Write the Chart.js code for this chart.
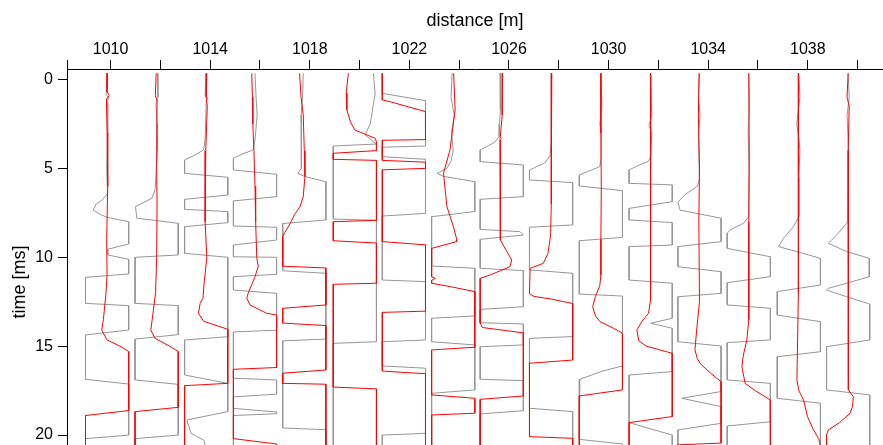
<!DOCTYPE html>
<html>
<head>
<meta charset="utf-8">
<script src="https://cdn.jsdelivr.net/npm/chart.js@4.4.1/dist/chart.umd.min.js"></script>
<style>
  html, body { margin: 0; padding: 0; background: #fff; overflow: hidden; width: 883px; height: 445px; }
  #wrap { width: 883px; height: 445px; overflow: hidden; }
  canvas { display: block; }
</style>
</head>
<body>
<div id="wrap"><canvas id="chart" width="883" height="495"></canvas></div>
<script>
// ---- stations (trace positions along the profile, m) ----
const stations = [1009.86, 1011.85, 1013.84, 1015.80, 1017.78, 1019.81, 1021.78, 1023.76,
                  1025.71, 1027.69, 1029.69, 1031.69, 1033.65, 1035.63, 1037.64, 1039.62];

// ---- axis ticks ----
const distanceTicks  = [1010, 1012, 1014, 1016, 1018, 1020, 1022, 1024, 1026, 1028, 1030, 1032, 1034, 1036, 1038, 1040];
const distanceLabels = [1010, 1014, 1018, 1022, 1026, 1030, 1034, 1038];
const timeTicks      = [0, 5, 10, 15, 20];

// ---- trace samples: [time ms, amplitude], amplitude clipped to [-1, 1] ----
const gray_1010 = [[-0.35,0.02],[0.5,0.0],[0.85,-0.06],[1.0,0.08],[1.3,0.0],[3.0,0.03],[5.0,-0.02],[6.4,0.02],[6.75,-0.2],[7.0,-0.5],[7.35,-0.65],[7.6,-0.3],[7.75,0.0],[8.0,1],[9.25,1],[9.55,0.03],[9.87,0.03],[10.11,1],[10.94,1],[11.13,-1],[12.59,-1],[12.72,1],[14.09,1],[14.37,-1],[16.86,-1],[17.13,1],[20.0,1],[20.2,-1],[20.8,-1]];
const red_1010  = [[-0.35,0.0],[0.7,0.0],[0.9,0.1],[1.1,-0.03],[3.0,0.0],[6.0,0.03],[9.0,-0.02],[11.0,0.0],[12.0,-0.05],[13.5,-0.17],[14.1,-0.25],[14.65,0.0],[15.0,0.6],[15.3,1],[18.62,1],[18.9,-1],[20.8,-1]];

const gray_1012 = [[-0.35,0.03],[1.0,0.06],[1.4,-0.03],[2.5,0.02],[4.0,0.03],[6.2,-0.07],[6.68,-0.22],[7.15,-0.98],[7.8,-0.92],[8.09,1],[9.87,1],[10.0,-1],[12.59,-1],[12.72,1],[14.35,1],[14.6,-1],[16.9,-1],[17.15,1],[20.0,1],[20.2,-1],[20.8,-1]];
const red_1012  = [[-0.35,-0.02],[0.9,-0.06],[1.2,0.02],[5.0,0.0],[7.0,0.02],[10.0,0.0],[12.0,-0.05],[12.96,-0.15],[14.1,-0.27],[14.56,-0.07],[15.0,0.6],[15.3,1],[18.44,1],[18.68,-1],[20.8,-1]];

const gray_1014 = [[-0.35,0.0],[0.9,-0.05],[1.0,0.06],[1.3,0.0],[3.4,-0.05],[3.96,-0.12],[4.3,-0.6],[4.53,-1],[5.28,-1],[5.5,1],[6.5,1],[6.74,-1],[7.3,-1],[7.43,1],[8.05,1],[8.28,-1],[9.78,-1],[10.0,1],[14.47,1],[14.65,-1],[16.62,-1],[17.09,1],[18.68,1],[19.15,-0.9],[19.9,-0.7],[20.3,-0.1],[20.8,0.0]];
const red_1014  = [[-0.35,0.03],[1.0,0.0],[1.5,0.05],[4.0,-0.02],[6.0,-0.05],[8.0,-0.05],[10.0,0.03],[11.5,-0.1],[12.3,-0.15],[12.59,-0.28],[13.15,-0.36],[13.6,-0.12],[14.05,1],[17.09,1],[17.22,-1],[20.8,-1]];

const gray_1016 = [[-0.35,0.0],[1.0,0.05],[2.0,0.1],[3.4,0.0],[3.96,-0.08],[4.2,-0.6],[4.43,-1],[5.09,-1],[5.33,1],[6.59,1],[6.83,-1],[8.24,-1],[8.31,1],[9.03,1],[9.31,-1],[9.97,-1],[10.0,1],[10.96,1],[11.09,-1],[11.84,-1],[12.03,1],[14.1,1],[14.2,-1],[16.8,-1],[16.9,1],[17.7,1],[17.85,-1],[18.5,-1],[18.7,1],[18.8,1],[18.9,-1],[20.8,-1]];
const red_1016  = [[-0.35,-0.15],[1.0,-0.12],[2.5,-0.1],[4.0,-0.05],[6.0,0.0],[8.0,0.03],[10.0,0.08],[10.5,0.15],[11.1,0.0],[12.0,-0.31],[12.3,-0.38],[12.68,-0.23],[13.15,0.54],[13.25,1],[16.2,1],[16.3,-1],[20.2,-1],[20.5,1],[20.8,1]];

const gray_1018 = [[-0.35,-0.05],[1.0,-0.08],[2.0,-0.15],[3.4,-0.12],[5.0,-0.15],[5.28,-0.3],[5.45,0.0],[5.75,1],[7.9,1],[8.1,-1],[10.76,-1],[10.9,1],[14.6,1],[14.7,-1],[19.6,-1],[19.7,1],[20.8,1]];
const red_1018  = [[-0.35,-0.22],[1.0,-0.15],[2.0,-0.05],[4.0,0.0],[5.45,0.03],[6.6,-0.05],[7.15,-0.2],[7.6,-0.45],[8.1,-0.66],[8.6,-0.9],[8.84,-1],[10.5,-1],[10.6,1],[12.68,1],[12.87,-1],[13.7,-1],[13.84,1],[16.34,1],[16.52,-1],[17.09,-1],[17.14,1],[20.8,1]];

const gray_1020 = [[-0.35,0.86],[0.8,0.94],[2.5,0.71],[3.12,0.48],[3.63,1],[3.74,-1],[7.85,-1],[7.92,1],[14.75,1],[14.84,-1],[20.8,-1]];
const red_1020  = [[-0.35,-0.3],[0.76,-0.4],[1.7,-0.37],[2.4,-0.2],[2.84,0.0],[3.31,0.94],[3.5,1],[4.0,1],[4.15,-1],[4.49,-1],[4.55,1],[7.92,1],[8.0,-1],[9.07,-1],[9.2,1],[11.46,1],[11.52,-1],[17.3,-1],[17.4,1],[20.8,1]];

const gray_1022 = [[-0.35,-1],[0.78,-1],[1.19,1],[3.74,1],[3.81,-1],[4.34,-1],[4.49,1],[7.53,1],[7.68,-1],[11.28,-1],[11.37,1],[14.65,1],[14.75,-1],[16.11,-1],[16.24,1],[19.9,1],[20.0,-1],[20.8,-1]];
const red_1022  = [[-0.35,-1],[1.15,-1],[1.25,-0.64],[1.81,1],[3.38,1],[3.42,-1],[4.55,-1],[4.65,1],[5.0,1],[5.08,-1],[9.12,-1],[9.3,1],[13.03,1],[13.1,-1],[16.4,-1],[16.55,1],[20.8,1]];

const gray_1024 = [[-0.35,-0.05],[1.0,-0.1],[2.0,0.05],[3.0,-0.08],[4.0,0.0],[4.6,-0.1],[5.0,-0.3],[5.28,-0.75],[5.45,-0.45],[5.75,1],[7.43,1],[7.72,-1],[10.49,-1],[10.62,1],[13.3,1],[13.43,-1],[14.75,-1],[14.93,1],[17.46,1],[17.65,-1],[20.8,-1]];
const red_1024  = [[-0.35,0.02],[1.72,0.09],[3.0,-0.05],[3.96,-0.15],[5.28,-0.45],[7.15,-0.29],[8.28,0.01],[9.03,0.17],[9.12,0.15],[9.5,-1],[11.1,-1],[11.18,-0.83],[11.3,-1],[11.46,-1],[11.65,-0.14],[11.93,1],[15.06,1],[15.21,-1],[17.74,-1],[17.93,1],[18.77,1],[18.87,-1],[20.8,-1]];

const gray_1026 = [[-0.35,-0.08],[1.0,-0.05],[1.72,-0.08],[2.5,-0.1],[3.2,-0.12],[3.5,-0.3],[3.78,-0.7],[3.96,-1],[4.62,-1],[4.81,1],[6.59,1],[6.74,-1],[8.43,-1],[8.56,0.85],[8.75,1],[8.99,-1],[10.62,-1],[10.75,1],[12.78,1],[12.93,-1],[13.68,-1],[13.75,1],[14.93,1],[15.03,-1],[16.86,-1],[16.94,1],[18.63,1],[18.81,-1],[20.8,-1]];
const red_1026  = [[-0.35,0.04],[2.0,0.02],[3.4,-0.08],[6.0,-0.05],[9.03,-0.08],[9.6,0.2],[10.15,0.46],[10.53,0.38],[11.0,-0.55],[11.18,-1],[13.7,-1],[13.95,-0.9],[14.25,1],[17.8,1],[17.99,-1],[20.8,-1]];

const gray_1028 = [[-0.35,0.03],[2.0,0.0],[3.4,0.03],[4.3,-0.05],[4.7,-0.3],[4.95,-0.75],[5.1,-1],[5.65,-1],[5.8,1],[8.18,1],[8.31,-1],[10.71,-1],[10.9,1],[14.46,1],[14.56,-1],[18.49,-1],[18.68,1],[20.8,1]];
const red_1028  = [[-0.35,0.03],[4.0,0.02],[7.0,0.0],[8.6,-0.02],[9.03,-0.05],[9.8,-0.15],[10.34,-0.36],[10.62,-0.97],[12.05,-1],[12.2,-0.8],[12.35,0.0],[12.6,1],[15.78,1],[15.96,-1],[20.09,-1],[20.18,1],[20.8,1]];

const gray_1030 = [[-0.35,0.0],[1.5,0.05],[2.5,-0.05],[3.0,0.03],[4.5,0.0],[4.9,-0.05],[5.1,-0.45],[5.37,-1],[5.99,-1],[6.25,1],[8.88,1],[9.07,-1],[12.07,-1],[12.18,1],[16.11,1],[16.43,0.0],[16.86,-0.97],[20.24,-1],[20.5,1],[20.8,1]];
const red_1030  = [[-0.35,0.0],[3.0,0.0],[6.0,0.02],[9.0,0.0],[11.0,0.0],[11.6,-0.05],[12.2,-0.25],[12.78,-0.38],[13.3,-0.25],[13.62,-0.04],[14.0,0.6],[14.27,1],[17.46,1],[17.8,-1],[20.8,-1]];

const gray_1032 = [[-0.35,0.0],[2.0,0.05],[2.6,-0.08],[3.0,0.05],[4.3,0.0],[4.6,-0.1],[4.85,-0.6],[5.09,-1],[5.84,-1],[5.93,1],[6.87,1],[7.25,-1],[7.9,-1],[8.05,1],[9.31,1],[9.4,-1],[11.28,-1],[11.46,1],[13.43,1],[13.71,0.0],[13.99,1],[16.43,1],[16.62,-1],[19.3,-1],[20.0,1],[20.8,1]];
const red_1032  = [[-0.35,0.0],[3.0,-0.02],[6.0,0.0],[9.0,0.0],[12.4,0.0],[13.15,-0.1],[13.6,-0.4],[14.09,-0.64],[14.7,-0.55],[15.0,-0.2],[15.4,1],[18.96,1],[19.3,-1],[20.8,-1]];

const gray_1034 = [[-0.35,0.0],[1.0,-0.05],[2.0,0.03],[3.0,-0.05],[5.6,0.0],[6.0,-0.1],[6.5,-0.7],[6.9,-1],[7.35,-0.9],[7.8,1],[9.12,1],[9.4,-1],[10.53,-1],[10.81,1],[12.03,1],[12.22,-1],[14.75,-1],[14.99,1],[17.55,1],[17.93,-0.82],[18.4,1],[19.34,1],[19.71,-1],[20.8,-1]];
const red_1034  = [[-0.35,-0.02],[2.0,-0.05],[5.0,0.0],[8.0,-0.03],[12.5,0.0],[14.09,-0.13],[15.21,-0.21],[15.7,-0.1],[16.0,0.05],[16.5,0.5],[17.0,1],[20.45,1],[20.55,-1],[20.8,-1]];

const gray_1036 = [[-0.35,0.0],[1.5,0.03],[3.0,-0.03],[5.0,0.02],[7.72,0.0],[8.09,-0.25],[8.46,-0.86],[8.65,-1],[9.5,-1],[9.97,1],[11.09,1],[11.43,-1],[12.68,-1],[12.87,1],[14.65,1],[14.8,-1],[16.9,-1],[17.09,1],[19.25,1],[19.49,-1],[20.8,-1]];
const red_1036  = [[-0.35,0.0],[4.0,0.02],[8.0,0.0],[13.5,0.0],[14.65,-0.09],[15.5,-0.25],[16.15,-0.32],[17.09,-0.17],[17.5,0.3],[18.03,1],[20.8,1]];

const gray_1038 = [[-0.35,0.0],[1.0,0.05],[2.5,-0.1],[3.3,0.0],[4.0,0.05],[5.5,0.0],[7.72,0.0],[8.28,-0.25],[8.93,-0.71],[9.4,-0.94],[9.68,-0.09],[10.06,1],[11.56,1],[11.93,-1],[13.25,-1],[13.62,1],[15.31,1],[15.59,-1],[17.93,-1],[18.21,1],[20.8,1]];
const red_1038  = [[-0.35,-0.02],[3.0,-0.03],[8.0,0.0],[12.0,-0.03],[16.9,-0.09],[17.5,0.0],[18.03,0.22],[18.96,0.4],[19.71,0.68],[20.2,0.92],[20.6,1],[20.8,1]];

const gray_1040 = [[-0.35,0.0],[1.0,0.05],[2.0,-0.05],[4.0,0.02],[7.9,0.0],[8.09,-0.07],[8.75,-0.53],[9.21,-0.92],[9.68,-0.07],[10.06,0.98],[11.09,0.98],[11.46,-0.07],[11.75,-0.92],[11.84,-1],[12.22,-0.07],[12.63,1],[14.65,1],[15.03,-1],[17.46,-1],[17.74,1],[20.8,1]];
const red_1040  = [[-0.35,0.0],[1.0,-0.05],[1.5,0.05],[4.0,0.0],[8.0,0.02],[12.0,0.0],[17.0,0.0],[17.46,0.02],[17.84,0.24],[18.4,0.2],[18.77,0.09],[19.3,-0.4],[19.71,-0.92],[20.0,-1],[20.8,-1]];

const grayTraces = [gray_1010, gray_1012, gray_1014, gray_1016, gray_1018, gray_1020, gray_1022, gray_1024,
                    gray_1026, gray_1028, gray_1030, gray_1032, gray_1034, gray_1036, gray_1038, gray_1040];
const redTraces  = [red_1010, red_1012, red_1014, red_1016, red_1018, red_1020, red_1022, red_1024,
                    red_1026, red_1028, red_1030, red_1032, red_1034, red_1036, red_1038, red_1040];

// clip level of the wiggle display, in metres of offset from the station
const CLIP = 0.867;
const DIST_MIN = 1008.25, DIST_MAX = 1041.02;
const TIME_MIN = -0.59,   TIME_MAX = 23.37;

function wiggle(station, samples) {
  return samples.map(([t, a]) => ({ x: station + a * CLIP, y: t }));
}

const datasets = [];
stations.forEach((s, i) => {
  datasets.push({
    data: wiggle(s, grayTraces[i]),
    borderColor: 'rgb(150,150,150)', order: 2
  });
  datasets.push({
    data: wiggle(s, redTraces[i]),
    borderColor: 'rgb(255,0,0)', order: 1
  });
});
datasets.forEach(d => Object.assign(d, {
  showLine: true, borderWidth: 1, pointRadius: 0, pointHoverRadius: 0, tension: 0, fill: false
}));

Chart.defaults.font.family = '"Liberation Sans", Arial, sans-serif';
Chart.defaults.color = '#000';

new Chart(document.getElementById('chart'), {
  type: 'scatter',
  data: { datasets },
  options: {
    responsive: false,
    animation: false,
    events: [],
    layout: { padding: 0 },
    plugins: { legend: { display: false }, tooltip: { enabled: false } },
    scales: {
      x: {
        type: 'linear', position: 'top', min: DIST_MIN, max: DIST_MAX,
        afterBuildTicks: s => { s.ticks = [{ value: DIST_MIN }].concat(distanceTicks.map(v => ({ value: v }))); },
        afterFit: s => { s.height = 69; s.paddingLeft = 0; s.paddingRight = 0; },
        ticks: {
          autoSkip: false, maxRotation: 0, padding: 1, color: '#000',
          font: { size: 16 },
          callback: v => distanceLabels.includes(v) ? String(v) : ''
        },
        grid: { drawOnChartArea: false, drawTicks: true, tickLength: 9, color: '#000', lineWidth: 1 },
        border: { display: true, color: '#000', width: 1 },
        title: { display: true, text: 'distance [m]', color: '#000', font: { size: 18 }, padding: { top: 10, bottom: 0 } }
      },
      y: {
        type: 'linear', reverse: true, min: TIME_MIN, max: TIME_MAX,
        afterBuildTicks: s => { s.ticks = timeTicks.map(v => ({ value: v })); },
        afterFit: s => { s.width = 67; s.paddingTop = 0; s.paddingBottom = 0; },
        ticks: { padding: 5, color: '#000', font: { size: 16 } },
        grid: { drawOnChartArea: false, drawTicks: true, tickLength: 9, color: '#000', lineWidth: 1 },
        border: { display: true, color: '#000', width: 1 },
        title: { display: true, text: 'time [ms]', color: '#000', font: { size: 18 }, padding: { top: 9, bottom: 0 } }
      }
    }
  }
});
</script>
</body>
</html>
